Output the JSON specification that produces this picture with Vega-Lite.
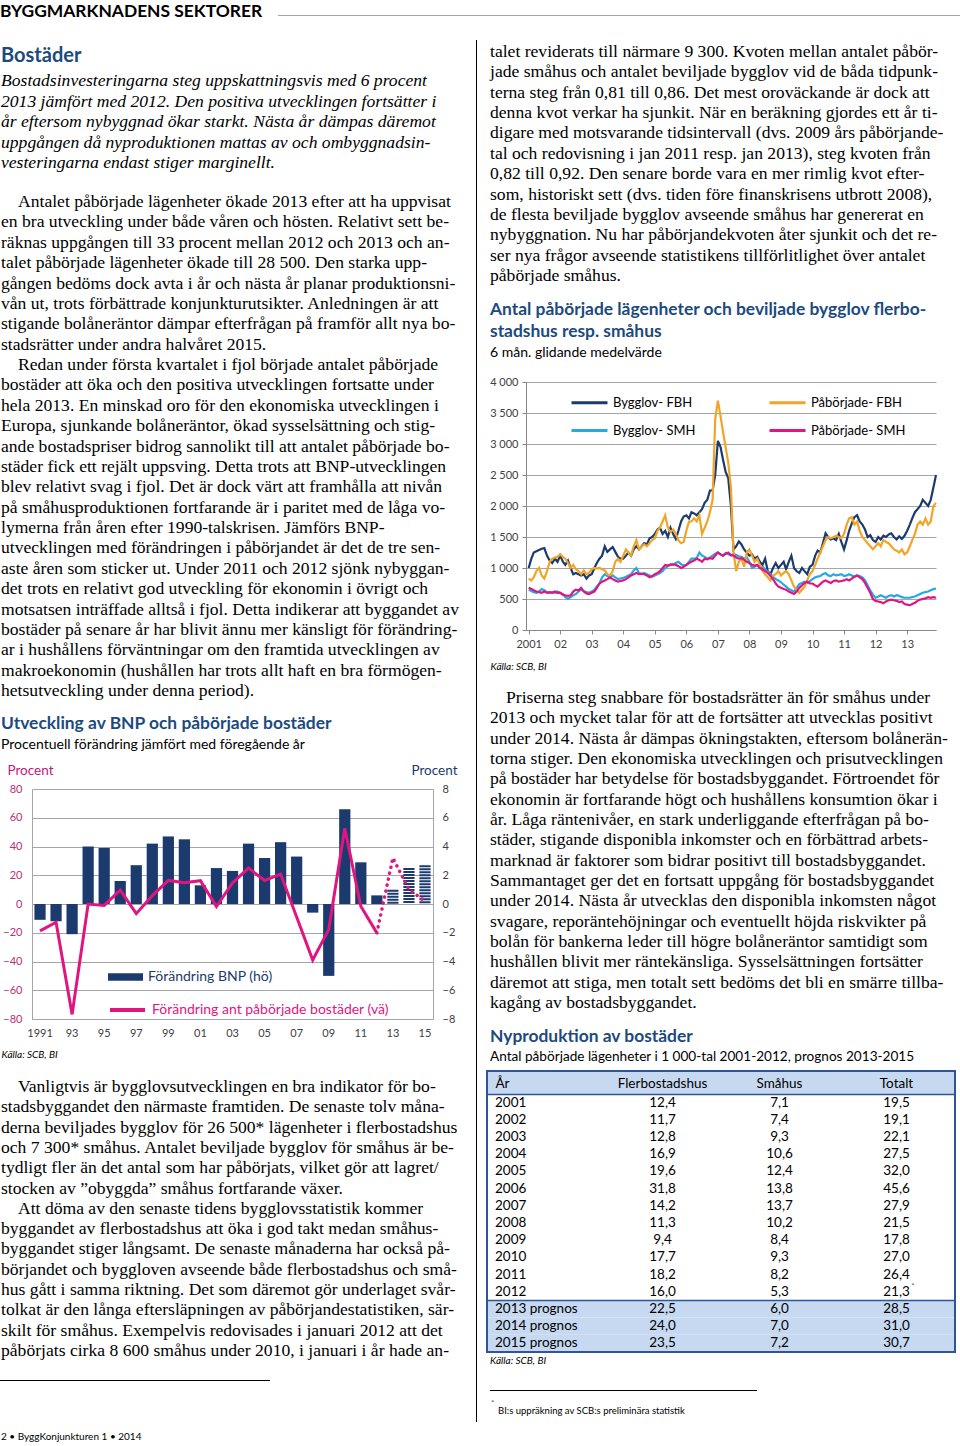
{
"$schema": "https://vega.github.io/schema/vega-lite/v6.json",
"width": 960, "height": 1446,
"autosize": {"type": "none"},
"padding": 0,
"background": "white",
"config": {"view": {"stroke": null}, "locale": {"number": {"decimal": ",", "thousands": " ", "grouping": [3], "currency": ["", " kr"]}}},
"resolve": {"scale": {"x": "independent", "y": "independent", "color": "independent"}, "axis": {"x": "independent", "y": "independent"}, "legend": {"color": "independent"}},
"datasets": {
"txt": [
{"b":"LA","i":0,"p":0,"t":"Bostadsinvesteringarna steg uppskattningsvis med 6 procent"},
{"b":"LA","i":1,"p":0,"t":"2013 jämfört med 2012. Den positiva utvecklingen fortsätter i"},
{"b":"LA","i":2,"p":0,"t":"år eftersom nybyggnad ökar starkt. Nästa år dämpas däremot"},
{"b":"LA","i":3,"p":0,"t":"uppgången då nyproduktionen mattas av och ombyggnadsin-"},
{"b":"LA","i":4,"p":0,"t":"vesteringarna endast stiger marginellt."},
{"b":"LB","i":0,"p":1,"t":"Antalet påbörjade lägenheter ökade 2013 efter att ha uppvisat"},
{"b":"LB","i":1,"p":0,"t":"en bra utveckling under både våren och hösten. Relativt sett be-"},
{"b":"LB","i":2,"p":0,"t":"räknas uppgången till 33 procent mellan 2012 och 2013 och an-"},
{"b":"LB","i":3,"p":0,"t":"talet påbörjade lägenheter ökade till 28 500. Den starka upp-"},
{"b":"LB","i":4,"p":0,"t":"gången bedöms dock avta i år och nästa år planar produktionsni-"},
{"b":"LB","i":5,"p":0,"t":"vån ut, trots förbättrade konjunkturutsikter. Anledningen är att"},
{"b":"LB","i":6,"p":0,"t":"stigande bolåneräntor dämpar efterfrågan på framför allt nya bo-"},
{"b":"LB","i":7,"p":0,"t":"stadsrätter under andra halvåret 2015."},
{"b":"LB","i":8,"p":1,"t":"Redan under första kvartalet i fjol började antalet påbörjade"},
{"b":"LB","i":9,"p":0,"t":"bostäder att öka och den positiva utvecklingen fortsatte under"},
{"b":"LB","i":10,"p":0,"t":"hela 2013. En minskad oro för den ekonomiska utvecklingen i"},
{"b":"LB","i":11,"p":0,"t":"Europa, sjunkande bolåneräntor, ökad sysselsättning och stig-"},
{"b":"LB","i":12,"p":0,"t":"ande bostadspriser bidrog sannolikt till att antalet påbörjade bo-"},
{"b":"LB","i":13,"p":0,"t":"städer fick ett rejält uppsving. Detta trots att BNP-utvecklingen"},
{"b":"LB","i":14,"p":0,"t":"blev relativt svag i fjol. Det är dock värt att framhålla att nivån"},
{"b":"LB","i":15,"p":0,"t":"på småhusproduktionen fortfarande är i paritet med de låga vo-"},
{"b":"LB","i":16,"p":0,"t":"lymerna från åren efter 1990-talskrisen. Jämförs BNP-"},
{"b":"LB","i":17,"p":0,"t":"utvecklingen med förändringen i påbörjandet är det de tre sen-"},
{"b":"LB","i":18,"p":0,"t":"aste åren som sticker ut. Under 2011 och 2012 sjönk nybyggan-"},
{"b":"LB","i":19,"p":0,"t":"det trots en relativt god utveckling för ekonomin i övrigt och"},
{"b":"LB","i":20,"p":0,"t":"motsatsen inträffade alltså i fjol. Detta indikerar att byggandet av"},
{"b":"LB","i":21,"p":0,"t":"bostäder på senare år har blivit ännu mer känsligt för förändring-"},
{"b":"LB","i":22,"p":0,"t":"ar i hushållens förväntningar om den framtida utvecklingen av"},
{"b":"LB","i":23,"p":0,"t":"makroekonomin (hushållen har trots allt haft en bra förmögen-"},
{"b":"LB","i":24,"p":0,"t":"hetsutveckling under denna period)."},
{"b":"LC","i":0,"p":1,"t":"Vanligtvis är bygglovsutvecklingen en bra indikator för bo-"},
{"b":"LC","i":1,"p":0,"t":"stadsbyggandet den närmaste framtiden. De senaste tolv måna-"},
{"b":"LC","i":2,"p":0,"t":"derna beviljades bygglov för 26 500* lägenheter i flerbostadshus"},
{"b":"LC","i":3,"p":0,"t":"och 7 300* småhus. Antalet beviljade bygglov för småhus är be-"},
{"b":"LC","i":4,"p":0,"t":"tydligt fler än det antal som har påbörjats, vilket gör att lagret/"},
{"b":"LC","i":5,"p":0,"t":"stocken av ”obyggda” småhus fortfarande växer."},
{"b":"LC","i":6,"p":1,"t":"Att döma av den senaste tidens bygglovsstatistik kommer"},
{"b":"LC","i":7,"p":0,"t":"byggandet av flerbostadshus att öka i god takt medan småhus-"},
{"b":"LC","i":8,"p":0,"t":"byggandet stiger långsamt. De senaste månaderna har också på-"},
{"b":"LC","i":9,"p":0,"t":"börjandet och byggloven avseende både flerbostadshus och små-"},
{"b":"LC","i":10,"p":0,"t":"hus gått i samma riktning. Det som däremot gör underlaget svår-"},
{"b":"LC","i":11,"p":0,"t":"tolkat är den långa eftersläpningen av påbörjandestatistiken, sär-"},
{"b":"LC","i":12,"p":0,"t":"skilt för småhus. Exempelvis redovisades i januari 2012 att det"},
{"b":"LC","i":13,"p":0,"t":"påbörjats cirka 8 600 småhus under 2010, i januari i år hade an-"},
{"b":"RA","i":0,"p":0,"t":"talet reviderats till närmare 9 300. Kvoten mellan antalet påbör-"},
{"b":"RA","i":1,"p":0,"t":"jade småhus och antalet beviljade bygglov vid de båda tidpunk-"},
{"b":"RA","i":2,"p":0,"t":"terna steg från 0,81 till 0,86. Det mest oroväckande är dock att"},
{"b":"RA","i":3,"p":0,"t":"denna kvot verkar ha sjunkit. När en beräkning gjordes ett år ti-"},
{"b":"RA","i":4,"p":0,"t":"digare med motsvarande tidsintervall (dvs. 2009 års påbörjande-"},
{"b":"RA","i":5,"p":0,"t":"tal och redovisning i jan 2011 resp. jan 2013), steg kvoten från"},
{"b":"RA","i":6,"p":0,"t":"0,82 till 0,92. Den senare borde vara en mer rimlig kvot efter-"},
{"b":"RA","i":7,"p":0,"t":"som, historiskt sett (dvs. tiden före finanskrisens utbrott 2008),"},
{"b":"RA","i":8,"p":0,"t":"de flesta beviljade bygglov avseende småhus har genererat en"},
{"b":"RA","i":9,"p":0,"t":"nybyggnation. Nu har påbörjandekvoten åter sjunkit och det re-"},
{"b":"RA","i":10,"p":0,"t":"ser nya frågor avseende statistikens tillförlitlighet över antalet"},
{"b":"RA","i":11,"p":0,"t":"påbörjade småhus."},
{"b":"RB","i":0,"p":1,"t":"Priserna steg snabbare för bostadsrätter än för småhus under"},
{"b":"RB","i":1,"p":0,"t":"2013 och mycket talar för att de fortsätter att utvecklas positivt"},
{"b":"RB","i":2,"p":0,"t":"under 2014. Nästa år dämpas ökningstakten, eftersom bolånerän-"},
{"b":"RB","i":3,"p":0,"t":"torna stiger. Den ekonomiska utvecklingen och prisutvecklingen"},
{"b":"RB","i":4,"p":0,"t":"på bostäder har betydelse för bostadsbyggandet. Förtroendet för"},
{"b":"RB","i":5,"p":0,"t":"ekonomin är fortfarande högt och hushållens konsumtion ökar i"},
{"b":"RB","i":6,"p":0,"t":"år. Låga räntenivåer, en stark underliggande efterfrågan på bo-"},
{"b":"RB","i":7,"p":0,"t":"städer, stigande disponibla inkomster och en förbättrad arbets-"},
{"b":"RB","i":8,"p":0,"t":"marknad är faktorer som bidrar positivt till bostadsbyggandet."},
{"b":"RB","i":9,"p":0,"t":"Sammantaget ger det en fortsatt uppgång för bostadsbyggandet"},
{"b":"RB","i":10,"p":0,"t":"under 2014. Nästa år utvecklas den disponibla inkomsten något"},
{"b":"RB","i":11,"p":0,"t":"svagare, reporäntehöjningar och eventuellt höjda riskvikter på"},
{"b":"RB","i":12,"p":0,"t":"bolån för bankerna leder till högre bolåneräntor samtidigt som"},
{"b":"RB","i":13,"p":0,"t":"hushållen blivit mer räntekänsliga. Sysselsättningen fortsätter"},
{"b":"RB","i":14,"p":0,"t":"däremot att stiga, men totalt sett bedöms det bli en smärre tillba-"},
{"b":"RB","i":15,"p":0,"t":"kagång av bostadsbyggandet."}
],
"c1": [
{"year":"1991","bnp":-1.1,"bost":-18.7},{"year":"1992","bnp":-1.2,"bost":-12.7},{"year":"1993","bnp":-2.1,"bost":-76.8},
{"year":"1994","bnp":4.0,"bost":0},{"year":"1995","bnp":3.9,"bost":-1},{"year":"1996","bnp":1.6,"bost":9.7},
{"year":"1997","bnp":2.7,"bost":-6.7},{"year":"1998","bnp":4.2,"bost":5.8},{"year":"1999","bnp":4.7,"bost":16.4},
{"year":"2000","bnp":4.5,"bost":14.8},{"year":"2001","bnp":1.3,"bost":16.2},{"year":"2002","bnp":2.5,"bost":-1.8},
{"year":"2003","bnp":2.3,"bost":14.6},{"year":"2004","bnp":4.2,"bost":25},{"year":"2005","bnp":3.2,"bost":16.4},
{"year":"2006","bnp":4.3,"bost":20.8},{"year":"2007","bnp":3.3,"bost":-9.1},{"year":"2008","bnp":-0.6,"bost":-39},
{"year":"2009","bnp":-5.0,"bost":-17.8},{"year":"2010","bnp":6.6,"bost":52.7},{"year":"2011","bnp":2.9,"bost":-1.6},
{"year":"2012","bnp":0.6,"bost":-20.1},{"year":"2013","bnp":1.0,"bost":32},{"year":"2014","bnp":2.5,"bost":10},
{"year":"2015","bnp":2.7,"bost":2}
],
"c2": [
{"m":"2001-01","bf":1000,"bs":650,"pf":830,"ps":680},{"m":"2001-02","bf":1150,"bs":630,"pf":800,"ps":660},{"m":"2001-03","bf":1250,"bs":610,"pf":850,"ps":640},{"m":"2001-04","bf":1270,"bs":600,"pf":950,"ps":620},{"m":"2001-05","bf":1290,"bs":620,"pf":1000,"ps":610},{"m":"2001-06","bf":1310,"bs":660,"pf":880,"ps":600},{"m":"2001-07","bf":1320,"bs":640,"pf":830,"ps":620},{"m":"2001-08","bf":1200,"bs":610,"pf":950,"ps":600},{"m":"2001-09","bf":1120,"bs":600,"pf":1100,"ps":610},{"m":"2001-10","bf":1080,"bs":610,"pf":1150,"ps":600},{"m":"2001-11","bf":1150,"bs":600,"pf":1170,"ps":620},{"m":"2001-12","bf":1100,"bs":620,"pf":1180,"ps":600},
{"m":"2002-01","bf":1200,"bs":600,"pf":1220,"ps":600},{"m":"2002-02","bf":1100,"bs":580,"pf":1180,"ps":570},{"m":"2002-03","bf":1050,"bs":530,"pf":1150,"ps":560},{"m":"2002-04","bf":1120,"bs":500,"pf":1080,"ps":550},{"m":"2002-05","bf":1000,"bs":530,"pf":1000,"ps":560},{"m":"2002-06","bf":900,"bs":560,"pf":1050,"ps":620},{"m":"2002-07","bf":920,"bs":580,"pf":980,"ps":650},{"m":"2002-08","bf":900,"bs":620,"pf":950,"ps":640},{"m":"2002-09","bf":880,"bs":650,"pf":900,"ps":680},{"m":"2002-10","bf":900,"bs":630,"pf":960,"ps":620},{"m":"2002-11","bf":830,"bs":610,"pf":900,"ps":590},{"m":"2002-12","bf":880,"bs":600,"pf":920,"ps":580},
{"m":"2003-01","bf":900,"bs":620,"pf":980,"ps":600},{"m":"2003-02","bf":1000,"bs":650,"pf":1000,"ps":620},{"m":"2003-03","bf":1080,"bs":700,"pf":990,"ps":680},{"m":"2003-04","bf":1150,"bs":750,"pf":1000,"ps":750},{"m":"2003-05","bf":1200,"bs":850,"pf":980,"ps":780},{"m":"2003-06","bf":1350,"bs":900,"pf":960,"ps":800},{"m":"2003-07","bf":1260,"bs":870,"pf":900,"ps":820},{"m":"2003-08","bf":1300,"bs":850,"pf":880,"ps":850},{"m":"2003-09","bf":1340,"bs":880,"pf":950,"ps":820},{"m":"2003-10","bf":1260,"bs":850,"pf":1100,"ps":800},{"m":"2003-11","bf":1180,"bs":820,"pf":1150,"ps":780},{"m":"2003-12","bf":1150,"bs":830,"pf":1100,"ps":790},
{"m":"2004-01","bf":1150,"bs":840,"pf":1200,"ps":800},{"m":"2004-02","bf":1200,"bs":860,"pf":1300,"ps":820},{"m":"2004-03","bf":1250,"bs":880,"pf":1250,"ps":850},{"m":"2004-04","bf":1200,"bs":900,"pf":1200,"ps":880},{"m":"2004-05","bf":1300,"bs":960,"pf":1350,"ps":900},{"m":"2004-06","bf":1350,"bs":1000,"pf":1450,"ps":920},{"m":"2004-07","bf":1300,"bs":920,"pf":1300,"ps":900},{"m":"2004-08","bf":1350,"bs":900,"pf":1350,"ps":910},{"m":"2004-09","bf":1400,"bs":920,"pf":1380,"ps":900},{"m":"2004-10","bf":1380,"bs":900,"pf":1350,"ps":880},{"m":"2004-11","bf":1480,"bs":880,"pf":1400,"ps":850},{"m":"2004-12","bf":1500,"bs":860,"pf":1450,"ps":870},
{"m":"2005-01","bf":1550,"bs":880,"pf":1480,"ps":900},{"m":"2005-02","bf":1620,"bs":900,"pf":1600,"ps":920},{"m":"2005-03","bf":1650,"bs":920,"pf":1650,"ps":950},{"m":"2005-04","bf":1550,"bs":950,"pf":1750,"ps":1000},{"m":"2005-05","bf":1600,"bs":1000,"pf":1850,"ps":1050},{"m":"2005-06","bf":1500,"bs":1030,"pf":1650,"ps":1040},{"m":"2005-07","bf":1650,"bs":1060,"pf":1580,"ps":1050},{"m":"2005-08","bf":1550,"bs":1050,"pf":1620,"ps":1060},{"m":"2005-09","bf":1470,"bs":1080,"pf":1550,"ps":1050},{"m":"2005-10","bf":1600,"bs":1100,"pf":1450,"ps":1030},{"m":"2005-11","bf":1750,"bs":1060,"pf":1400,"ps":1000},{"m":"2005-12","bf":1830,"bs":1040,"pf":1420,"ps":1020},
{"m":"2006-01","bf":1850,"bs":1050,"pf":1600,"ps":1050},{"m":"2006-02","bf":1800,"bs":1100,"pf":1750,"ps":1080},{"m":"2006-03","bf":1900,"bs":1150,"pf":1750,"ps":1100},{"m":"2006-04","bf":1880,"bs":1150,"pf":1800,"ps":1120},{"m":"2006-05","bf":1850,"bs":1160,"pf":1750,"ps":1150},{"m":"2006-06","bf":1900,"bs":1250,"pf":1850,"ps":1130},{"m":"2006-07","bf":1950,"bs":1200,"pf":1550,"ps":1100},{"m":"2006-08","bf":2050,"bs":1180,"pf":1650,"ps":1150},{"m":"2006-09","bf":2100,"bs":1150,"pf":1750,"ps":1140},{"m":"2006-10","bf":2250,"bs":1170,"pf":1900,"ps":1160},{"m":"2006-11","bf":2250,"bs":1200,"pf":2100,"ps":1150},{"m":"2006-12","bf":2500,"bs":1230,"pf":3400,"ps":1200},
{"m":"2007-01","bf":3050,"bs":1250,"pf":3700,"ps":1250},{"m":"2007-02","bf":2950,"bs":1220,"pf":3450,"ps":1220},{"m":"2007-03","bf":2750,"bs":1200,"pf":3200,"ps":1200},{"m":"2007-04","bf":2550,"bs":1240,"pf":2950,"ps":1230},{"m":"2007-05","bf":2450,"bs":1220,"pf":2700,"ps":1250},{"m":"2007-06","bf":2000,"bs":1200,"pf":2300,"ps":1210},{"m":"2007-07","bf":1300,"bs":1230,"pf":1250,"ps":1200},{"m":"2007-08","bf":1350,"bs":1210,"pf":950,"ps":1170},{"m":"2007-09","bf":1430,"bs":1190,"pf":1100,"ps":1150},{"m":"2007-10","bf":1380,"bs":1180,"pf":1150,"ps":1160},{"m":"2007-11","bf":1300,"bs":1150,"pf":1020,"ps":1130},{"m":"2007-12","bf":1250,"bs":1170,"pf":1250,"ps":1100},
{"m":"2008-01","bf":1200,"bs":1100,"pf":1300,"ps":1080},{"m":"2008-02","bf":1220,"bs":1000,"pf":1200,"ps":1050},{"m":"2008-03","bf":1150,"bs":1020,"pf":1100,"ps":1040},{"m":"2008-04","bf":1180,"bs":1050,"pf":1150,"ps":1050},{"m":"2008-05","bf":1100,"bs":1000,"pf":1050,"ps":1000},{"m":"2008-06","bf":1050,"bs":1020,"pf":950,"ps":980},{"m":"2008-07","bf":1150,"bs":980,"pf":900,"ps":950},{"m":"2008-08","bf":950,"bs":940,"pf":850,"ps":920},{"m":"2008-09","bf":900,"bs":900,"pf":800,"ps":870},{"m":"2008-10","bf":1000,"bs":860,"pf":880,"ps":820},{"m":"2008-11","bf":1080,"bs":820,"pf":900,"ps":750},{"m":"2008-12","bf":1000,"bs":800,"pf":950,"ps":700},
{"m":"2009-01","bf":1050,"bs":770,"pf":880,"ps":680},{"m":"2009-02","bf":1100,"bs":730,"pf":920,"ps":660},{"m":"2009-03","bf":980,"bs":700,"pf":950,"ps":650},{"m":"2009-04","bf":1100,"bs":660,"pf":900,"ps":620},{"m":"2009-05","bf":1200,"bs":640,"pf":800,"ps":600},{"m":"2009-06","bf":1000,"bs":620,"pf":700,"ps":580},{"m":"2009-07","bf":950,"bs":680,"pf":650,"ps":620},{"m":"2009-08","bf":920,"bs":740,"pf":600,"ps":680},{"m":"2009-09","bf":1000,"bs":760,"pf":650,"ps":720},{"m":"2009-10","bf":950,"bs":780,"pf":700,"ps":760},{"m":"2009-11","bf":900,"bs":760,"pf":800,"ps":780},{"m":"2009-12","bf":1020,"bs":790,"pf":900,"ps":750},
{"m":"2010-01","bf":1050,"bs":820,"pf":950,"ps":750},{"m":"2010-02","bf":1200,"bs":850,"pf":1050,"ps":720},{"m":"2010-03","bf":1280,"bs":860,"pf":1150,"ps":700},{"m":"2010-04","bf":1250,"bs":870,"pf":1250,"ps":740},{"m":"2010-05","bf":1400,"bs":900,"pf":1350,"ps":780},{"m":"2010-06","bf":1560,"bs":920,"pf":1450,"ps":800},{"m":"2010-07","bf":1500,"bs":880,"pf":1500,"ps":780},{"m":"2010-08","bf":1460,"bs":870,"pf":1480,"ps":760},{"m":"2010-09","bf":1480,"bs":900,"pf":1500,"ps":790},{"m":"2010-10","bf":1450,"bs":880,"pf":1520,"ps":800},{"m":"2010-11","bf":1550,"bs":890,"pf":1500,"ps":780},{"m":"2010-12","bf":1420,"bs":900,"pf":1480,"ps":790},
{"m":"2011-01","bf":1300,"bs":870,"pf":1550,"ps":800},{"m":"2011-02","bf":1450,"bs":880,"pf":1700,"ps":820},{"m":"2011-03","bf":1600,"bs":900,"pf":1800,"ps":800},{"m":"2011-04","bf":1720,"bs":880,"pf":1820,"ps":830},{"m":"2011-05","bf":1820,"bs":860,"pf":1700,"ps":860},{"m":"2011-06","bf":1850,"bs":880,"pf":1750,"ps":880},{"m":"2011-07","bf":1750,"bs":870,"pf":1600,"ps":850},{"m":"2011-08","bf":1700,"bs":850,"pf":1500,"ps":820},{"m":"2011-09","bf":1620,"bs":800,"pf":1450,"ps":760},{"m":"2011-10","bf":1500,"bs":720,"pf":1400,"ps":680},{"m":"2011-11","bf":1530,"bs":640,"pf":1350,"ps":600},{"m":"2011-12","bf":1450,"bs":570,"pf":1300,"ps":500},
{"m":"2012-01","bf":1420,"bs":520,"pf":1350,"ps":470},{"m":"2012-02","bf":1500,"bs":540,"pf":1400,"ps":460},{"m":"2012-03","bf":1460,"bs":560,"pf":1350,"ps":450},{"m":"2012-04","bf":1520,"bs":540,"pf":1450,"ps":430},{"m":"2012-05","bf":1500,"bs":520,"pf":1420,"ps":460},{"m":"2012-06","bf":1540,"bs":550,"pf":1400,"ps":480},{"m":"2012-07","bf":1560,"bs":560,"pf":1350,"ps":490},{"m":"2012-08","bf":1500,"bs":540,"pf":1300,"ps":480},{"m":"2012-09","bf":1460,"bs":560,"pf":1280,"ps":470},{"m":"2012-10","bf":1510,"bs":550,"pf":1250,"ps":450},{"m":"2012-11","bf":1470,"bs":530,"pf":1300,"ps":460},{"m":"2012-12","bf":1520,"bs":520,"pf":1220,"ps":420},
{"m":"2013-01","bf":1600,"bs":520,"pf":1250,"ps":410},{"m":"2013-02","bf":1700,"bs":520,"pf":1350,"ps":400},{"m":"2013-03","bf":1800,"bs":530,"pf":1450,"ps":420},{"m":"2013-04","bf":1900,"bs":540,"pf":1550,"ps":440},{"m":"2013-05","bf":1950,"bs":560,"pf":1700,"ps":470},{"m":"2013-06","bf":2000,"bs":580,"pf":1750,"ps":490},{"m":"2013-07","bf":2100,"bs":600,"pf":1700,"ps":500},{"m":"2013-08","bf":2050,"bs":610,"pf":1800,"ps":510},{"m":"2013-09","bf":2000,"bs":620,"pf":1700,"ps":530},{"m":"2013-10","bf":2100,"bs":640,"pf":1750,"ps":520},{"m":"2013-11","bf":2300,"bs":660,"pf":2000,"ps":530},{"m":"2013-12","bf":2500,"bs":670,"pf":2050,"ps":520}
],
"tab": [
{"År":"2001","Flerbostadshus":12.4,"Småhus":7.1,"Totalt":19.5},
{"År":"2002","Flerbostadshus":11.7,"Småhus":7.4,"Totalt":19.1},
{"År":"2003","Flerbostadshus":12.8,"Småhus":9.3,"Totalt":22.1},
{"År":"2004","Flerbostadshus":16.9,"Småhus":10.6,"Totalt":27.5},
{"År":"2005","Flerbostadshus":19.6,"Småhus":12.4,"Totalt":32.0},
{"År":"2006","Flerbostadshus":31.8,"Småhus":13.8,"Totalt":45.6},
{"År":"2007","Flerbostadshus":14.2,"Småhus":13.7,"Totalt":27.9},
{"År":"2008","Flerbostadshus":11.3,"Småhus":10.2,"Totalt":21.5},
{"År":"2009","Flerbostadshus":9.4,"Småhus":8.4,"Totalt":17.8},
{"År":"2010","Flerbostadshus":17.7,"Småhus":9.3,"Totalt":27.0},
{"År":"2011","Flerbostadshus":18.2,"Småhus":8.2,"Totalt":26.4},
{"År":"2012","Flerbostadshus":16.0,"Småhus":5.3,"Totalt":21.3},
{"År":"2013 prognos","Flerbostadshus":22.5,"Småhus":6.0,"Totalt":28.5},
{"År":"2014 prognos","Flerbostadshus":24.0,"Småhus":7.0,"Totalt":31.0},
{"År":"2015 prognos","Flerbostadshus":23.5,"Småhus":7.2,"Totalt":30.7}
]
},
"layer": [
{"data":{"values":[{}]},"mark":{"type":"text","text":"BYGGMARKNADENS SEKTORER","align":"left","baseline":"middle","font":"Lato","fontSize":17.4,"fontWeight":"bold","color":"#000000"},"encoding":{"x":{"value":0},"y":{"value":12}}},
{"data":{"values":[{}]},"mark":{"type":"rule","color":"#A6A6A6","strokeWidth":1},"encoding":{"x":{"value":278},"x2":{"value":960},"y":{"value":15.5}}},
{"data":{"values":[{}]},"mark":{"type":"rule","color":"#000000","strokeWidth":1},"encoding":{"x":{"value":476.5},"y":{"value":40},"y2":{"value":1422}}},
{"data":{"values":[{}]},"mark":{"type":"text","text":"Bostäder","align":"left","baseline":"middle","font":"Lato","fontSize":20,"fontWeight":"bold","color":"#1C4A7E"},"encoding":{"x":{"value":1},"y":{"value":56}}},
{"data":{"name":"txt"},"transform":[{"filter":"datum.b == 'LA'"}],"mark":{"type":"text","align":"left","baseline":"middle","font":"Liberation Serif","fontStyle":"italic","fontSize":17.6,"color":"#000000"},
 "encoding":{"text":{"field":"t"},"x":{"field":"p","type":"quantitative","scale":{"domain":[0,1],"range":[1,18]},"axis":null},"y":{"field":"i","type":"quantitative","scale":{"domain":[0,4],"range":[81,163]},"axis":null}}},
{"data":{"name":"txt"},"transform":[{"filter":"datum.b == 'LB'"}],"mark":{"type":"text","align":"left","baseline":"middle","font":"Liberation Serif","fontSize":17.6,"color":"#000000"},
 "encoding":{"text":{"field":"t"},"x":{"field":"p","type":"quantitative","scale":{"domain":[0,1],"range":[1,18]},"axis":null},"y":{"field":"i","type":"quantitative","scale":{"domain":[0,24],"range":[202,691]},"axis":null}}},
{"data":{"name":"txt"},"transform":[{"filter":"datum.b == 'LC'"}],"mark":{"type":"text","align":"left","baseline":"middle","font":"Liberation Serif","fontSize":17.6,"color":"#000000"},
 "encoding":{"text":{"field":"t"},"x":{"field":"p","type":"quantitative","scale":{"domain":[0,1],"range":[1,18]},"axis":null},"y":{"field":"i","type":"quantitative","scale":{"domain":[0,13],"range":[1087,1351]},"axis":null}}},
{"data":{"name":"txt"},"transform":[{"filter":"datum.b == 'RA'"}],"mark":{"type":"text","align":"left","baseline":"middle","font":"Liberation Serif","fontSize":17.6,"color":"#000000"},
 "encoding":{"text":{"field":"t"},"x":{"field":"p","type":"quantitative","scale":{"domain":[0,1],"range":[490,506]},"axis":null},"y":{"field":"i","type":"quantitative","scale":{"domain":[0,11],"range":[52,276]},"axis":null}}},
{"data":{"name":"txt"},"transform":[{"filter":"datum.b == 'RB'"}],"mark":{"type":"text","align":"left","baseline":"middle","font":"Liberation Serif","fontSize":17.6,"color":"#000000"},
 "encoding":{"text":{"field":"t"},"x":{"field":"p","type":"quantitative","scale":{"domain":[0,1],"range":[490,506]},"axis":null},"y":{"field":"i","type":"quantitative","scale":{"domain":[0,15],"range":[698,1003]},"axis":null}}},
{"data":{"values":[{}]},"mark":{"type":"text","text":"Utveckling av BNP och påbörjade bostäder","align":"left","baseline":"middle","font":"Lato","fontSize":17.4,"fontWeight":"bold","color":"#1C4A7E"},"encoding":{"x":{"value":1},"y":{"value":724}}},
{"data":{"values":[{}]},"mark":{"type":"text","text":"Procentuell förändring jämfört med föregående år","align":"left","baseline":"middle","font":"Lato","fontSize":14,"color":"#000000"},"encoding":{"x":{"value":1},"y":{"value":745}}},
{"data":{"name":"c1"},
 "resolve":{"scale":{"y":"independent","color":"independent"},"axis":{"y":"independent"},"legend":{"color":"independent"}},
 "layer":[
  {"layer":[
    {"transform":[{"filter":"toNumber(datum.year) <= 2012"}],
     "mark":{"type":"bar"},
     "encoding":{
      "x":{"field":"year","type":"ordinal","scale":{"domain":["1991","1992","1993","1994","1995","1996","1997","1998","1999","2000","2001","2002","2003","2004","2005","2006","2007","2008","2009","2010","2011","2012","2013","2014","2015"],"range":[32,433],"paddingInner":0.3,"paddingOuter":0.15},
        "axis":{"orient":"bottom","offset":-427,"ticks":false,"domainColor":"#A6A6A6","labelFont":"Lato","labelFontSize":11,"labelColor":"#404040","labelPadding":8,"labelAngle":0,"labelExpr":"datum.value == '1991' ? '1991' : (toNumber(datum.value) % 2 == 1 ? substring(datum.value, 2, 4) : '')","title":"Källa: SCB, BI","titleX":1,"titleY":35,"titleAlign":"left","titleAnchor":"start","titleBaseline":"middle","titleFont":"Lato","titleFontSize":10,"titleFontStyle":"italic","titleFontWeight":"normal","titleColor":"#000000"}},
      "y":{"field":"bnp","type":"quantitative","scale":{"domain":[-8,8],"range":[1019,789]},
        "axis":{"orient":"right","offset":-527,"values":[-8,-6,-4,-2,0,2,4,6,8],"format":"d","grid":false,"ticks":false,"domainColor":"#A6A6A6","labelFont":"Lato","labelFontSize":11,"labelColor":"#404040","labelPadding":9,"title":"Procent","titleAngle":0,"titleX":-22,"titleY":770,"titleAlign":"left","titleBaseline":"middle","titleFont":"Lato","titleFontSize":13.5,"titleFontWeight":"normal","titleColor":"#1B3B6F"}},
      "color":{"datum":"Förändring BNP (hö)","scale":{"range":["#1B3B6F"]},
        "legend":{"orient":"none","legendX":108,"legendY":959.5,"title":null,"padding":0,"symbolType":"M-1,-0.22L1,-0.22L1,0.22L-1,0.22Z","symbolSize":1225,"symbolStrokeWidth":0,"labelFont":"Lato","labelFontSize":14,"labelColor":"#1B3B6F","labelOffset":5,"labelLimit":400}}
     }},
    {"transform":[{"filter":"toNumber(datum.year) >= 2013"}],
     "mark":{"type":"rule","strokeWidth":11.2,"strokeDash":[2,1],"strokeCap":"butt","color":"#1B3B6F"},
     "encoding":{"x":{"field":"year","type":"ordinal","bandPosition":0.5},"y":{"field":"bnp","type":"quantitative"},"y2":{"datum":0}}}
  ]},
  {"layer":[
    {"transform":[{"filter":"toNumber(datum.year) <= 2012"}],
     "mark":{"type":"line","strokeWidth":3},
     "encoding":{
      "x":{"field":"year","type":"ordinal"},
      "y":{"field":"bost","type":"quantitative","scale":{"domain":[-80,80],"range":[1019,789]},
        "axis":{"orient":"left","offset":-32,"values":[-80,-60,-40,-20,0,20,40,60,80],"format":"d","grid":true,"gridColor":"#A6A6A6","ticks":false,"domainColor":"#A6A6A6","labelFont":"Lato","labelFontSize":11,"labelColor":"#B83370","labelPadding":10,"title":"Procent","titleAngle":0,"titleX":-25,"titleY":770,"titleAlign":"left","titleBaseline":"middle","titleFont":"Lato","titleFontSize":13.5,"titleFontWeight":"normal","titleColor":"#C0187A"}},
      "color":{"datum":"Förändring ant påbörjade bostäder (vä)","scale":{"range":["#E0157F"]},
        "legend":{"orient":"none","legendX":108,"legendY":990.5,"title":null,"padding":0,"symbolType":"stroke","symbolSize":1225,"symbolStrokeWidth":4,"labelFont":"Lato","labelFontSize":14,"labelColor":"#E0157F","labelOffset":5,"labelLimit":400}}
     }},
    {"transform":[{"filter":"toNumber(datum.year) >= 2012"}],
     "mark":{"type":"line","strokeWidth":3.5,"strokeDash":[0.1,6],"strokeCap":"round","color":"#E0157F"},
     "encoding":{"x":{"field":"year","type":"ordinal"},"y":{"field":"bost","type":"quantitative"}}}
  ]}
 ]},
{"data":{"values":[{}]},"mark":{"type":"text","text":"Antal påbörjade lägenheter och beviljade bygglov flerbo-","align":"left","baseline":"middle","font":"Lato","fontSize":17.4,"fontWeight":"bold","color":"#1C4A7E"},"encoding":{"x":{"value":490},"y":{"value":310}}},
{"data":{"values":[{}]},"mark":{"type":"text","text":"stadshus resp. småhus","align":"left","baseline":"middle","font":"Lato","fontSize":17.4,"fontWeight":"bold","color":"#1C4A7E"},"encoding":{"x":{"value":490},"y":{"value":332}}},
{"data":{"values":[{}]},"mark":{"type":"text","text":"6 mån. glidande medelvärde","align":"left","baseline":"middle","font":"Lato","fontSize":14,"color":"#000000"},"encoding":{"x":{"value":490},"y":{"value":353}}},
{"data":{"name":"c2"},
 "transform":[{"fold":["bf","bs","pf","ps"],"as":["k","v"]}],
 "mark":{"type":"line","strokeWidth":2.2},
 "encoding":{
  "x":{"field":"m","type":"temporal","scale":{"domain":[{"year":2000,"month":12,"date":1},{"year":2013,"month":12,"date":1}],"range":[526,936]},
    "axis":{"orient":"bottom","offset":-816,"tickCount":{"interval":"year","step":1},"labelExpr":"year(datum.value) == 2001 ? '2001' : timeFormat(datum.value, '%y')","labelFont":"Lato","labelFontSize":11,"labelColor":"#404040","labelPadding":4,"labelFlush":false,"labelOverlap":false,"ticks":true,"tickSize":4,"tickColor":"#888888","domainColor":"#888888","grid":false,"title":"Källa: SCB, BI","titleX":490,"titleY":36,"titleAlign":"left","titleAnchor":"start","titleBaseline":"middle","titleFont":"Lato","titleFontSize":10,"titleFontStyle":"italic","titleFontWeight":"normal","titleColor":"#000000"}},
  "y":{"field":"v","type":"quantitative","scale":{"domain":[0,4000],"range":[630,382]},
    "axis":{"orient":"left","offset":-526,"values":[0,500,1000,1500,2000,2500,3000,3500,4000],"format":",d","grid":true,"gridColor":"#A6A6A6","ticks":true,"tickSize":4,"tickColor":"#888888","domainColor":"#888888","labelFont":"Lato","labelFontSize":11,"labelColor":"#404040","labelPadding":4,"title":null}},
  "color":{"field":"k","type":"nominal","scale":{"domain":["bf","bs","pf","ps"],"range":["#1B3B6F","#29A8E0","#F2A427","#E0157F"]},
    "legend":{"orient":"none","legendX":570,"legendY":383,"title":null,"padding":0,"columns":2,"columnPadding":67,"rowPadding":1,"symbolType":"stroke","symbolSize":1296,"symbolStrokeWidth":3,"labelFont":"Lato","labelFontSize":13,"labelColor":"#000000","labelOffset":4,"labelLimit":300,"labelExpr":"datum.label == 'bf' ? 'Bygglov- FBH' : datum.label == 'pf' ? 'Påbörjade- FBH' : datum.label == 'bs' ? 'Bygglov- SMH' : 'Påbörjade- SMH'"}}
 }},
{"data":{"values":[{}]},"mark":{"type":"text","text":"Nyproduktion av bostäder","align":"left","baseline":"middle","font":"Lato","fontSize":17.4,"fontWeight":"bold","color":"#1C4A7E"},"encoding":{"x":{"value":490},"y":{"value":1037}}},
{"data":{"values":[{}]},"mark":{"type":"text","text":"Antal påbörjade lägenheter i 1 000-tal 2001-2012, prognos 2013-2015","align":"left","baseline":"middle","font":"Lato","fontSize":13.6,"color":"#000000"},"encoding":{"x":{"value":490},"y":{"value":1057}}},
{"data":{"values":[{}]},"mark":{"type":"rect","color":"#C6D9F1"},"encoding":{"x":{"value":487},"x2":{"value":955},"y":{"value":1071},"y2":{"value":1094}}},
{"data":{"name":"tab"},
 "transform":[{"fold":["År","Flerbostadshus","Småhus","Totalt"],"as":["kol","varde"]}],
 "layer":[
  {"mark":{"type":"rect","strokeWidth":0},
   "encoding":{
    "x":{"field":"kol","type":"nominal","scale":{"domain":["År","Flerbostadshus","Småhus","Totalt"],"range":[487,955],"paddingInner":0,"paddingOuter":0},
      "axis":{"orient":"top","offset":-1083,"domain":false,"ticks":false,"tickSize":0,"labelPadding":0,"labelBaseline":"middle","labelAngle":0,"labelFont":"Lato","labelFontSize":13.5,"labelColor":"#000000","title":null,"zindex":2,
        "labelAlign":{"condition":{"test":"datum.value == 'År'","value":"left"},"value":"center"},
        "labelOffset":{"condition":{"test":"datum.value == 'År'","value":-50},"value":0}}},
    "y":{"field":"År","type":"nominal","scale":{"domain":["2001","2002","2003","2004","2005","2006","2007","2008","2009","2010","2011","2012","2013 prognos","2014 prognos","2015 prognos"],"range":[1094,1352],"paddingInner":0,"paddingOuter":0},
      "axis":{"orient":"left","offset":-487,"values":["2001","2013 prognos"],"bandPosition":0,"grid":true,"gridColor":"#2F5597","gridWidth":1.5,"labels":false,"ticks":false,"domain":false,"title":null,"zindex":1}},
    "fill":{"condition":{"test":"indexof(datum['År'], 'prognos') >= 0","value":"#C6D9F1"},"value":"#FFFFFF"}
   }},
  {"transform":[{"filter":"datum.kol == 'År'"}],
   "mark":{"type":"text","align":"left","baseline":"middle","dx":8,"font":"Lato","fontSize":13.5,"color":"#000000"},
   "encoding":{"x":{"field":"kol","type":"nominal","bandPosition":0},"y":{"field":"År","type":"nominal"},"text":{"field":"varde"}}},
  {"transform":[{"filter":"datum.kol != 'År'"}],
   "mark":{"type":"text","align":"center","baseline":"middle","font":"Lato","fontSize":13.5,"color":"#000000"},
   "encoding":{"x":{"field":"kol","type":"nominal"},"y":{"field":"År","type":"nominal"},"text":{"field":"varde","type":"quantitative","format":".1f"}}},
  {"transform":[{"filter":"datum.kol == 'Totalt' && datum['År'] == '2012'"}],
   "mark":{"type":"text","text":"*","align":"left","baseline":"middle","dx":15,"dy":-5,"font":"Lato","fontSize":7,"color":"#555555"},
   "encoding":{"x":{"field":"kol","type":"nominal"},"y":{"field":"År","type":"nominal"}}}
 ]},
{"data":{"values":[{}]},"mark":{"type":"rect","filled":false,"color":"#2F5597","strokeWidth":2},"encoding":{"x":{"value":487},"x2":{"value":955},"y":{"value":1071},"y2":{"value":1352}}},
{"data":{"values":[{}]},"mark":{"type":"text","text":"Källa: SCB, BI","align":"left","baseline":"middle","font":"Lato","fontSize":10,"fontStyle":"italic","color":"#000000"},"encoding":{"x":{"value":490},"y":{"value":1361}}},
{"data":{"values":[{}]},"mark":{"type":"rule","color":"#000000","strokeWidth":1},"encoding":{"x":{"value":0},"x2":{"value":270},"y":{"value":1380.5}}},
{"data":{"values":[{}]},"mark":{"type":"rule","color":"#000000","strokeWidth":1},"encoding":{"x":{"value":490},"x2":{"value":757},"y":{"value":1390.5}}},
{"data":{"values":[{}]},"mark":{"type":"text","text":"*","align":"left","baseline":"middle","font":"Lato","fontSize":8,"color":"#555555"},"encoding":{"x":{"value":491},"y":{"value":1404}}},
{"data":{"values":[{}]},"mark":{"type":"text","text":"BI:s uppräkning av SCB:s preliminära statistik","align":"left","baseline":"middle","font":"Lato","fontSize":9.5,"color":"#000000"},"encoding":{"x":{"value":498},"y":{"value":1411}}},
{"data":{"values":[{}]},"mark":{"type":"text","text":"2 • ByggKonjunkturen 1 • 2014","align":"left","baseline":"middle","font":"Lato","fontSize":10,"color":"#000000"},"encoding":{"x":{"value":1},"y":{"value":1437}}}
]
}
